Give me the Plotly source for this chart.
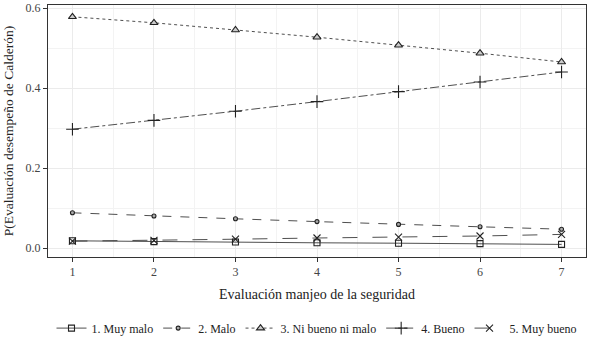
import plotly.graph_objects as go

x_vals = [1, 2, 3, 4, 5, 6, 7]
muy_malo = [0.018, 0.016, 0.015, 0.013, 0.012, 0.011, 0.009]
malo = [0.088, 0.080, 0.073, 0.066, 0.059, 0.053, 0.047]
ni_bueno = [0.578, 0.563, 0.545, 0.527, 0.507, 0.487, 0.465]
bueno = [0.297, 0.319, 0.342, 0.366, 0.391, 0.415, 0.440]
muy_bueno = [0.017, 0.019, 0.022, 0.025, 0.027, 0.030, 0.034]
names = ["1. Muy malo", "2. Malo", "3. Ni bueno ni malo", "4. Bueno", "5. Muy bueno"]
y_ticks = [0.0, 0.2, 0.4, 0.6]

series = [muy_malo, malo, ni_bueno, bueno, muy_bueno]
dashes = ["solid", "dash", "dot", "dashdot", "longdash"]
symbols = ["square-open", "circle", "triangle-up", "cross-thin", "x-thin"]
msizes = [6, 4, 7, 9, 7]
mcolors = ["#222", "#aaa", "#ccc", "#222", "#222"]

FONT = "Liberation Serif"
fig = go.Figure()
for s, n, d, sym, ms, mc in zip(series, names, dashes, symbols, msizes, mcolors):
    fig.add_trace(go.Scatter(
        x=x_vals, y=s, name=n, mode="lines+markers",
        line=dict(color="#222", width=0.8, dash=d),
        marker=dict(symbol=sym, size=ms, color=mc,
                    line=dict(color="#222", width=1.1)),
    ))

fig.update_layout(
    width=589, height=340,
    margin=dict(l=48, r=3, t=5, b=83),
    paper_bgcolor="white", plot_bgcolor="white",
    font=dict(family=FONT, size=12, color="#333"),
    showlegend=True,
    legend=dict(orientation="h", x=0.5, xanchor="center", yref="container",
                y=0.035, yanchor="middle",
                font=dict(size=12, color="#222"), itemwidth=30),
    xaxis=dict(range=[0.7, 7.3], tickvals=x_vals, ticks="outside", ticklen=4,
               tickcolor="#333", showline=True, linecolor="#333", linewidth=1, mirror=True,
               gridcolor="#ebebeb", gridwidth=1, zeroline=False, automargin=False,
               minor=dict(dtick=0.5, tick0=0.5, showgrid=True, gridcolor="#f3f3f3", gridwidth=0.6),
               title=dict(text="Evaluación manjeo de la seguridad", font=dict(size=14, color="#222"),
                          standoff=10),
               tickfont=dict(size=12, color="#444")),
    yaxis=dict(range=[-0.0225, 0.6075], tickvals=y_ticks, tickformat=".1f", ticks="outside",
               ticklen=4, tickcolor="#333", showline=True, linecolor="#333", linewidth=1, mirror=True,
               gridcolor="#ebebeb", gridwidth=1, zeroline=False, automargin=False,
               minor=dict(dtick=0.1, tick0=0.1, showgrid=True, gridcolor="#f3f3f3", gridwidth=0.6),
               title=dict(text="P(Evaluación desempeño de Calderón)", font=dict(size=13.5, color="#222"),
                          standoff=8),
               tickfont=dict(size=12, color="#444")),
)

fig.write_html("out.html", config={"displayModeBar": False},
               post_script="document.body.style.margin='0';")
